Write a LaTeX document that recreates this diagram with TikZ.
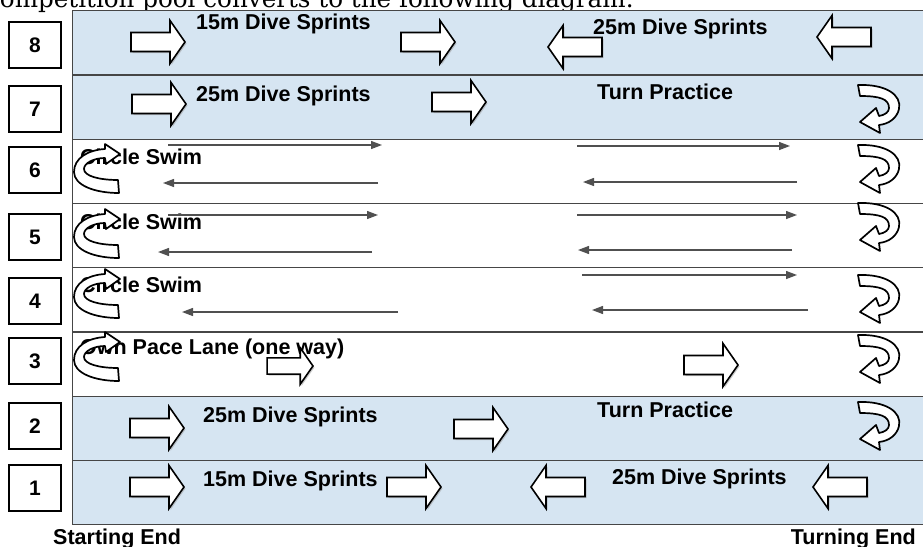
\documentclass[tikz,border=0pt]{standalone}
\usepackage{fontspec}
\newfontfamily\labfont{Liberation Sans}
\newfontfamily\introfont{DejaVu Serif}
\usetikzlibrary{arrows.meta,shadows}
\definecolor{laneblue}{RGB}{214,229,242}
\definecolor{lanegray}{RGB}{70,70,70}
\definecolor{arrgray}{RGB}{80,80,80}
\tikzset{
  lane/.style={draw=lanegray, line width=1.3pt, anchor=north west, minimum width=880pt, minimum height=64.25pt, inner sep=0pt},
  numbox/.style={draw=black, line width=1.6pt, fill=white, minimum width=52pt, minimum height=46pt, inner sep=0pt, font=\labfont\bfseries\fontsize{21}{22}\selectfont},
  lbl/.style={anchor=base west, inner sep=0pt, font=\labfont\bfseries\fontsize{21.5}{24}\selectfont},
  thin/.style={draw=arrgray, line width=1.3pt, -{Triangle[length=11pt,width=8pt]}},
  blk/.style={draw=black, line width=1.6pt, fill=white, line join=miter, drop shadow={shadow xshift=1.5pt, shadow yshift=-1.5pt, fill=black!40}},
  ribbon/.style={draw=black, line width=1.7pt, fill=white, line join=round},
  rblk/.pic={\path[blk] (-27,-9.5) -- (12,-9.5) -- (12,-21.5) -- (27,0) -- (12,21.5) -- (12,9.5) -- (-27,9.5) -- cycle;},
  lblk/.pic={\path[blk] (27,-9.5) -- (-12,-9.5) -- (-12,-21.5) -- (-27,0) -- (-12,21.5) -- (-12,9.5) -- (27,9.5) -- cycle;},
  uturn/.pic={\path[ribbon] (0,0) .. controls (28,-1) and (44,10) .. (41,24) .. controls (39,33) and (31,39) .. (21,40) -- (22,48) -- (2,37) -- (18,23) -- (21,31) .. controls (27,30) and (31,27) .. (31,23) .. controls (31,14) and (22,11) .. (2,11) -- cycle;},
  circl/.pic={\path[ribbon] (45,48) .. controls (20,48) and (0,40) .. (0,27) .. controls (0,13) and (14,5) .. (31,4) -- (31,-1) -- (46,9) -- (32,19) -- (31,13) .. controls (20,13) and (10,18) .. (10,24) .. controls (10,31) and (25,35) .. (44,35) -- cycle;}
}
\begin{document}
\begin{tikzpicture}[x=1pt,y=-1pt]
\useasboundingbox (0,0) rectangle (923,546);
\clip (0,0) rectangle (923,546);
\fill[white] (0,0) rectangle (923,546);

% intro text (cut at top)
\node[anchor=base west, inner sep=0pt, font=\introfont\fontsize{24.6}{27}\selectfont] (intro) at (-14,8) {competition pool converts to the following diagram:};

% lanes
\node[lane, fill=laneblue] (lane8) at (72,10) {};
\node[lane, fill=laneblue] (lane7) at (72,74.25) {};
\node[lane, fill=white] (lane6) at (72,138.5) {};
\node[lane, fill=white] (lane5) at (72,202.75) {};
\node[lane, fill=white] (lane4) at (72,267) {};
\node[lane, fill=white] (lane3) at (72,331.25) {};
\node[lane, fill=laneblue] (lane2) at (72,395.5) {};
\node[lane, fill=laneblue] (lane1) at (72,459.75) {};

% lane numbers
\node[numbox] (n8) at (35,45) {\raisebox{-4pt}{8}};
\node[numbox] (n7) at (35,109) {\raisebox{-4pt}{7}};
\node[numbox] (n6) at (35,170) {\raisebox{-4pt}{6}};
\node[numbox] (n5) at (35,237) {\raisebox{-4pt}{5}};
\node[numbox] (n4) at (35,301) {\raisebox{-4pt}{4}};
\node[numbox] (n3) at (35,361) {\raisebox{-4pt}{3}};
\node[numbox] (n2) at (35,426) {\raisebox{-4pt}{2}};
\node[numbox] (n1) at (35,488) {\raisebox{-4pt}{1}};

% lane texts
\node[lbl] (t8a) at (196,29) {15m Dive Sprints};
\node[lbl] (t8b) at (593,34) {25m Dive Sprints};
\node[lbl] (t7a) at (196,101) {25m Dive Sprints};
\node[lbl] (t7b) at (597,99) {Turn Practice};
\node[lbl] (t6) at (80,164) {Circle Swim};
\node[lbl] (t5) at (80,229) {Circle Swim};
\node[lbl] (t4) at (80,292) {Circle Swim};
\node[lbl] (t3) at (80,354) {Own Pace Lane (one way)};
\node[lbl] (t2a) at (203,422) {25m Dive Sprints};
\node[lbl] (t2b) at (597,417) {Turn Practice};
\node[lbl] (t1a) at (203,486) {15m Dive Sprints};
\node[lbl] (t1b) at (612,484) {25m Dive Sprints};

% bottom labels
\node[lbl] (start) at (53,544) {Starting End};
\node[lbl, anchor=base east] (turn) at (916,544) {Turning End};

% block arrows
\pic at (158,42) {rblk};
\pic at (428,42) {rblk};
\pic at (575,47) {lblk};
\pic at (844,37) {lblk};
\pic at (159,104) {rblk};
\pic at (459,102) {rblk};
\pic[scale=0.85] at (290,366) {rblk};
\pic at (711,365) {rblk};
\pic at (157,428) {rblk};
\pic at (481,429) {rblk};
\pic at (157,487) {rblk};
\pic at (414,487) {rblk};
\pic at (558,487) {lblk};
\pic at (840,487) {lblk};

% U-turn arrows at turning end
\pic at (858,85) {uturn};
\pic at (858,145) {uturn};
\pic at (858,203) {uturn};
\pic at (858,275) {uturn};
\pic at (858,335) {uturn};
\pic at (858,402) {uturn};

% circle arrows at starting end
\pic at (74,145) {circl};
\pic at (74,210) {circl};
\pic at (74,270) {circl};
\pic at (74,333) {circl};

% thin arrows
\coordinate (a6s) at (168,145); \coordinate (a6e) at (382,145);
\coordinate (b6s) at (378,183); \coordinate (b6e) at (163,183);
\coordinate (c6s) at (577,146); \coordinate (c6e) at (790,146);
\coordinate (d6s) at (797,182); \coordinate (d6e) at (583,182);
\coordinate (a5s) at (168,215); \coordinate (a5e) at (378,215);
\coordinate (b5s) at (372,252); \coordinate (b5e) at (158,252);
\coordinate (c5s) at (577,215); \coordinate (c5e) at (797,215);
\coordinate (d5s) at (792,250); \coordinate (d5e) at (578,250);
\coordinate (b4s) at (398,312); \coordinate (b4e) at (182,312);
\coordinate (c4s) at (582,275); \coordinate (c4e) at (797,275);
\coordinate (d4s) at (808,310); \coordinate (d4e) at (592,310);
\draw[thin] (a6s) -- (a6e);
\draw[thin] (b6s) -- (b6e);
\draw[thin] (c6s) -- (c6e);
\draw[thin] (d6s) -- (d6e);
\draw[thin] (a5s) -- (a5e);
\draw[thin] (b5s) -- (b5e);
\draw[thin] (c5s) -- (c5e);
\draw[thin] (d5s) -- (d5e);
\draw[thin] (b4s) -- (b4e);
\draw[thin] (c4s) -- (c4e);
\draw[thin] (d4s) -- (d4e);
\end{tikzpicture}
\end{document}
